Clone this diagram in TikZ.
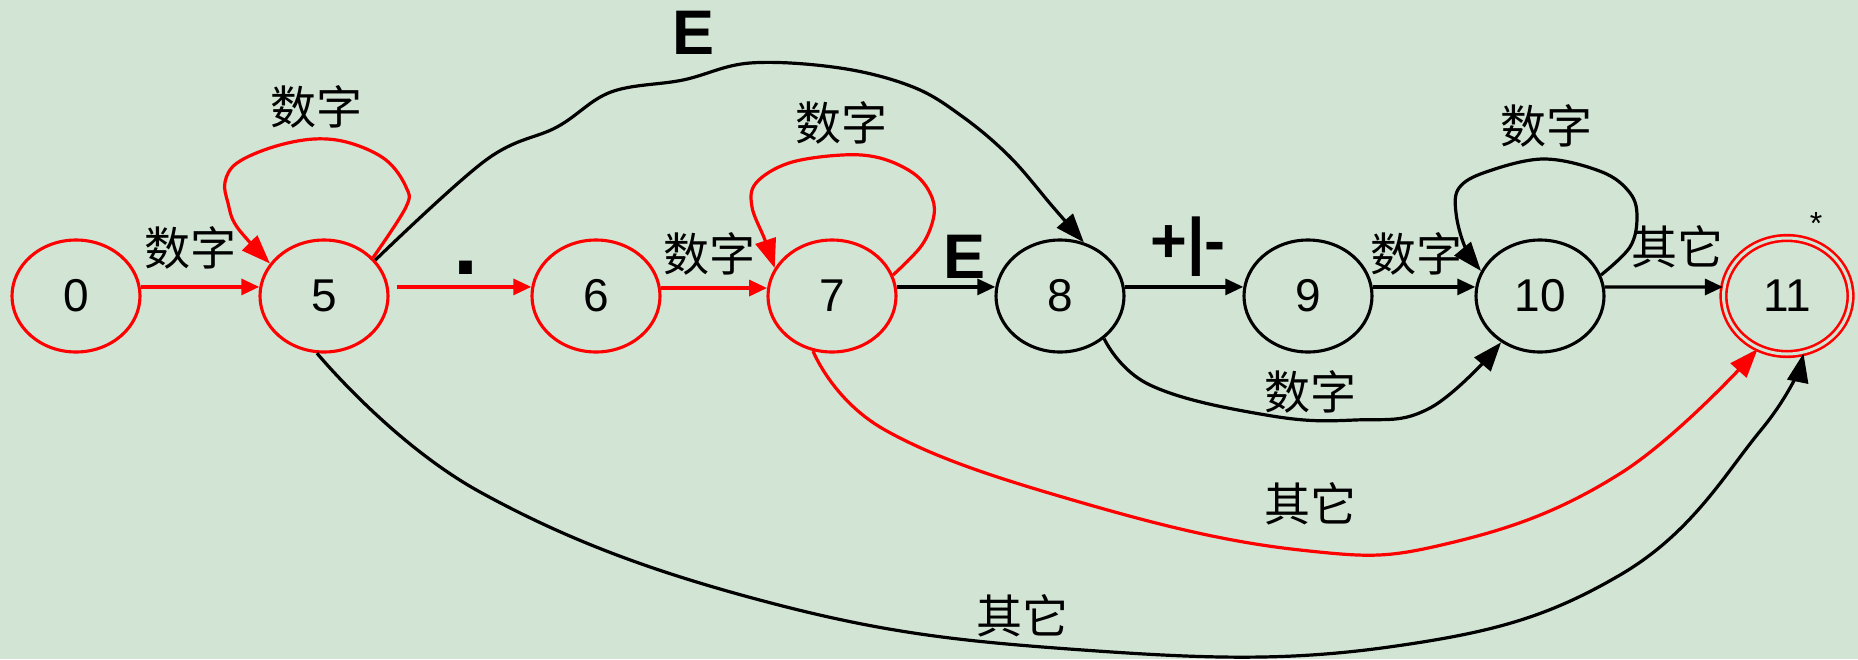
\documentclass[tikz,border=0pt]{standalone}
\usepackage{fontspec}
\setmainfont{Liberation Sans}
\newfontfamily\cjk{Noto Sans CJK SC}
\usetikzlibrary{arrows.meta,shapes.geometric}
\definecolor{bg}{HTML}{D2E4D4}
\definecolor{myred}{HTML}{FF0000}
\begin{document}
\begin{tikzpicture}[x=1pt,y=-1pt,
  st/.style={ellipse, draw, line width=3.1pt, minimum width=128pt, minimum height=112pt, inner sep=0pt, font=\fontsize{46}{46}\selectfont},
  redst/.style={st, draw=myred},
  blkst/.style={st, draw=black},
  sedge/.style={line width=3.2pt, -{Triangle[length=18pt,width=16pt]}},
  cedge/.style={line width=3.2pt, -{Triangle[length=29pt,width=21pt]}},
  cn/.style={font=\cjk\fontsize{46}{46}\selectfont, inner sep=0pt},
  bl/.style={font=\bfseries\fontsize{63}{63}\selectfont, inner sep=0pt},
]
\fill[bg] (0,0) rectangle (1858,659);
\useasboundingbox (0,0) rectangle (1858,659);

% states
\node[redst] (n0) at (76,296) {0};
\node[redst] (n5) at (324,296) {5};
\node[redst] (n6) at (596,296) {6};
\node[redst] (n7) at (832,296) {7};
\node[blkst] (n8) at (1060,296) {8};
\node[blkst] (n9) at (1308,296) {9};
\node[blkst] (n10) at (1540,296) {10};
\node[ellipse, draw=myred, double=bg, double distance=3pt, line width=2.6pt,
      minimum width=127pt, minimum height=116pt, inner sep=0pt,
      font=\fontsize{46}{46}\selectfont] (n11) at (1787,296) {11};

% straight edges
\draw[sedge, myred] (n0.8) -- (n5.172);
\draw[sedge, myred, shorten <=8pt] (n5.8) -- (n6.172);
\draw[sedge, myred] (n6.7) -- (n7.173);
\draw[sedge] (n7.8) -- (n8.172);
\draw[sedge] (n8.8) -- (n9.172);
\draw[sedge] (n9.8) -- (n10.172);
\draw[sedge] (n10.8) -- (n11.172);

% self loops
\draw[cedge, myred] plot[smooth, tension=0.6] coordinates {(n5.38) (406,207) (406,187) (386,160) (350,143) (314,139) (273,147) (237,163) (225,182) (228,203) (237,227) (n5.149)};
\draw[cedge, myred] plot[smooth, tension=0.6] coordinates {(n7.19) (922,245) (934,215) (930,193) (913,173) (880,158) (842,155) (789,163) (756,183) (752,207) (765,240) (n7.154)};
\draw[cedge] plot[smooth, tension=0.6] coordinates {(n10.19) (1630,247) (1637,217) (1630,193) (1602,172) (1544,159) (1486,172) (1459,188) (1456,213) (1465,247) (n10.157)};

% long curves
\draw[cedge] plot[smooth, tension=0.6] coordinates {(n5.35) (486,160) (557,127) (611,92) (683,80) (750,63) (840,68) (913,87) (963,117) (1010,157) (1053,207) (n8.66)};
\draw[cedge] plot[smooth, tension=0.7] coordinates {(n8.-44) (1150,385) (1266,415) (1355,420) (1430,408) (n10.230)};
\draw[cedge, myred] plot[smooth, tension=0.7] coordinates {(n7.251) (885,430) (1083,503) (1300,550) (1450,543) (1621,473) (n11.241)};
\draw[cedge] plot[smooth, tension=0.7] coordinates {(n5.263) (480,492) (771,603) (1083,650) (1389,647) (1620,575) (1761,430) (n11.286)};

% labels
\node[cn] (l05) at (190,248) {数字};
\node[cn] (l55) at (316,107) {数字};
\node[cn] (l67) at (709,254) {数字};
\node[cn] (l77) at (841,123) {数字};
\node[cn] (l910) at (1416,254) {数字};
\node[cn] (l1010) at (1546,126) {数字};
\node[cn] (l810) at (1310,392) {数字};
\node[cn] (l1011) at (1677,247) {其它};
\node[cn] (l711) at (1310,504) {其它};
\node[cn] (l511) at (1022,616) {其它};
\node[bl] (lE1) at (694,33) {E};
\node[bl] (lE2) at (964,257) {E};
\node[font=\bfseries\fontsize{90}{90}\selectfont, inner sep=0pt] (ldot) at (466,268) {.};
\node[bl] (lpm) at (1188,247) {+|-};
\node[font=\fontsize{32}{32}\selectfont, inner sep=0pt] (lstar) at (1816,223) {*};
\end{tikzpicture}
\end{document}
